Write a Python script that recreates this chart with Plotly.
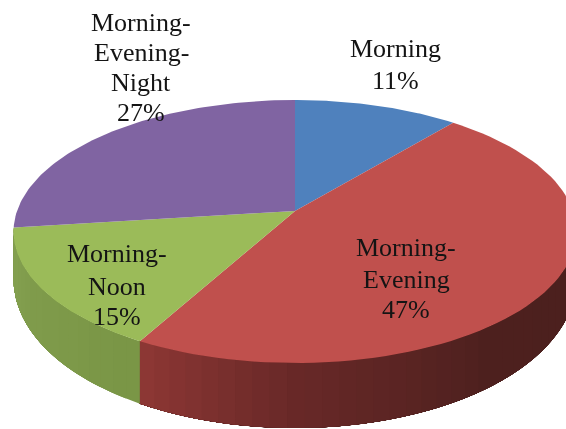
import numpy as np
import plotly.graph_objects as go

# Data
categories = ["Morning", "Morning-Evening", "Morning-Noon", "Morning-Evening-Night"]
values = [11, 47, 15, 27]
label_lines = [
    ["Morning", "11%"],
    ["Morning-", "Evening", "47%"],
    ["Morning-", "Noon", "15%"],
    ["Morning-", "Evening-", "Night", "27%"],
]

# Style
top_colors = ["#4F81BD", "#C0504D", "#9BBB59", "#8064A2"]
label_x = [395, 406, 117, 141]
label_line_y = [[48, 80], [247, 279, 309], [253, 286, 316], [22, 52, 82, 112]]
W, H = 566, 429
CX, CY, RX, RY, K = 295, 211, 278, 128.3, -0.156


def project(deg, drop=0.0):
    """Map pie angle (clockwise from 12 o'clock) to the tilted, perspective view."""
    a = np.radians(deg)
    u, v = np.sin(a), -np.cos(a)
    d = 1 + K * v
    x = CX + RX * u / d
    y = CY + RY * v / d
    return x, y + drop * (44 + 21 * v)


def poly(x, y, color):
    return go.Scatter(
        x=list(x) + [x[0]], y=list(y) + [y[0]], mode="lines", fill="toself",
        fillcolor=color, line=dict(color=color, width=0),
        hoverinfo="skip", showlegend=False,
    )


def lerp_color(stops, t):
    ts = [s[0] for s in stops]
    rgb = [int(np.interp(t, ts, [s[1][i] for s in stops])) for i in range(3)]
    return "rgb(%d,%d,%d)" % tuple(rgb)


edges = np.cumsum([0] + values) * 3.6
fig = go.Figure()

# Side wall: shaded strips for the front-facing slices; each strip runs on to the
# end of its slice so later strips paint over it and no seams show.
red_wall = [(0, (142, 56, 53)), (0.24, (105, 41, 40)), (0.55, (78, 33, 31)), (1, (74, 31, 29))]
green_wall = [(0, (122, 150, 70)), (0.6, (128, 156, 76)), (1, (134, 162, 82))]
wall_spans = [(90, edges[2], red_wall, True), (edges[2], edges[3], green_wall, False)]
for start, end, stops, reverse in wall_spans:
    n = int((end - start) / 3)
    cuts = np.linspace(start, end, n + 1)
    for i in range(n):
        a = np.linspace(cuts[i], end, 40)
        xt, yt = project(a)
        xb, yb = project(a[::-1], 1.0)
        t = (i + 0.5) / n
        t = 1 - t if reverse else t
        fig.add_trace(poly(np.r_[xt, xb], np.r_[yt, yb], lerp_color(stops, t)))

# Top face
for i, c in enumerate(top_colors):
    a = np.linspace(edges[i], edges[i + 1], 80)
    x, y = project(a)
    fig.add_trace(poly(np.r_[CX, x], np.r_[CY, y], c))

annotations = [
    dict(x=px, y=py, xref="x", yref="y", text=line, showarrow=False,
         font=dict(family='"Liberation Serif", "Times New Roman", serif', size=26, color="#141414"),
         align="center", xanchor="center", yanchor="middle")
    for lines, px, ys in zip(label_lines, label_x, label_line_y)
    for line, py in zip(lines, ys)
]

fig.update_layout(
    width=W, height=H, autosize=False, margin=dict(l=0, r=0, t=0, b=0),
    paper_bgcolor="white", plot_bgcolor="white", showlegend=False,
    xaxis=dict(range=[0, W], visible=False, fixedrange=True),
    yaxis=dict(range=[H, 0], visible=False, fixedrange=True),
    annotations=annotations,
)
fig.write_html("out.html", config={"displayModeBar": False},
               post_script="document.body.style.margin='0';document.body.style.overflow='hidden';"
                           "document.querySelectorAll('.main-svg').forEach(s=>s.style.filter='blur(0.7px)');")
